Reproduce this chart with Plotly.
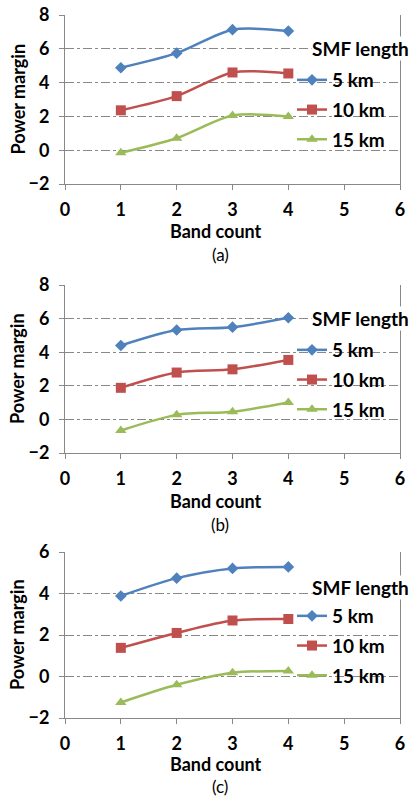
import plotly.graph_objects as go

band_count = [1, 2, 3, 4]
series_names = ["5 km", "10 km", "15 km"]

# panel (a)
a_5km = [4.88, 5.74, 7.13, 7.05]
a_10km = [2.36, 3.20, 4.60, 4.54]
a_15km = [-0.15, 0.71, 2.05, 2.00]
# panel (b)
b_5km = [4.40, 5.32, 5.49, 6.05]
b_10km = [1.88, 2.79, 2.98, 3.54]
b_15km = [-0.66, 0.27, 0.46, 1.01]
# panel (c)
c_5km = [3.88, 4.74, 5.21, 5.28]
c_10km = [1.38, 2.10, 2.70, 2.77]
c_15km = [-1.25, -0.40, 0.18, 0.27]

x_ticks = [0, 1, 2, 3, 4, 5, 6]
captions = ["(a)", "(b)", "(c)"]
legend_title = "SMF length"
y_ranges = [[-2, 8], [-2, 8], [-2, 6]]

panels = [[a_5km, a_10km, a_15km], [b_5km, b_10km, b_15km], [c_5km, c_10km, c_15km]]

colors = ["#4F81BD", "#C0504D", "#9BBB59"]
symbols = ["diamond", "square", "triangle-up"]
msizes = [9, 10, 10]

W, H = 409, 798
# plot areas in pixels (x0, x1, ytop, ybottom)
areas = [(65, 400, 15, 184), (65, 400, 285, 453), (65, 400, 552, 718)]
xtitle_y = [231, 501, 764]
cap_y = [254, 524, 786]
title_y = [49, 318, 587]
first_item_y = [80, 350, 616]

FONT = "Lato"
bold = dict(family=FONT, size=18, color="black", weight="bold")
bold_leg = dict(family=FONT, size=19, color="black", weight="bold")
fig = go.Figure()
annotations = []
for p, (vals, area) in enumerate(zip(panels, areas)):
    x0, x1, yt, yb = area
    sfx = "" if p == 0 else str(p + 1)
    leg = "legend" if p == 0 else f"legend{p + 1}"
    for i, (name, v) in enumerate(zip(series_names, vals)):
        fig.add_trace(go.Scatter(
            x=band_count, y=v, name=name, mode="lines+markers",
            line=dict(color=colors[i], width=2.5, shape="spline", smoothing=0.8),
            marker=dict(symbol=symbols[i], size=msizes[i], color=colors[i]),
            xaxis="x" + sfx, yaxis="y" + sfx, legend=leg, legendgroup=f"g{p}{i}",
        ))
    fig.update_layout(**{
        "xaxis" + sfx: dict(
            domain=[x0 / W, x1 / W], anchor="y" + sfx, range=[0, 6],
            tickvals=x_ticks, ticks="outside", ticklen=5, tickcolor="#888",
            showline=True, linecolor="#888", linewidth=1, showgrid=False,
            zeroline=False, ticklabelstandoff=4, tickfont=bold,
        ),
        "yaxis" + sfx: dict(
            domain=[1 - yb / H, 1 - yt / H], anchor="x" + sfx, range=y_ranges[p],
            dtick=2, ticks="outside", ticklen=5, tickcolor="#888",
            showline=True, linecolor="#888", linewidth=1, mirror=True,
            showgrid=True, gridcolor="#888", griddash="dashdot", gridwidth=1,
            zeroline=False, ticklabelstandoff=6, tickfont=bold,
        ),
        leg: dict(
            x=292 / W, y=1 - (first_item_y[p] - 19) / H, xanchor="left", yanchor="top",
            bgcolor="rgba(0,0,0,0)", tracegroupgap=2, itemwidth=30, font=bold_leg,
        ),
    })
    annotations.append(dict(text=legend_title, xref="paper", yref="paper",
                            x=311 / W, y=1 - title_y[p] / H, showarrow=False,
                            xanchor="left", yanchor="middle", bgcolor="white",
                            borderpad=0, font=bold_leg))
    annotations.append(dict(text="Power margin", xref="paper", yref="paper",
                            x=17 / W, y=1 - (yt + yb) / 2 / H, textangle=-90,
                            showarrow=False, xanchor="center", yanchor="middle",
                            font=bold))
    annotations.append(dict(text="Band count", xref="paper", yref="paper",
                            x=216 / W, y=1 - xtitle_y[p] / H, showarrow=False,
                            xanchor="center", yanchor="middle", font=bold))
    annotations.append(dict(text=captions[p], xref="paper", yref="paper",
                            x=220 / W, y=1 - cap_y[p] / H, showarrow=False,
                            xanchor="center", yanchor="middle",
                            font=dict(family=FONT, size=17, color="black")))

fig.update_layout(
    width=W, height=H, margin=dict(l=0, r=0, t=0, b=0, autoexpand=False),
    paper_bgcolor="white", plot_bgcolor="white",
    annotations=annotations,
)
fig.write_html("out.html")
